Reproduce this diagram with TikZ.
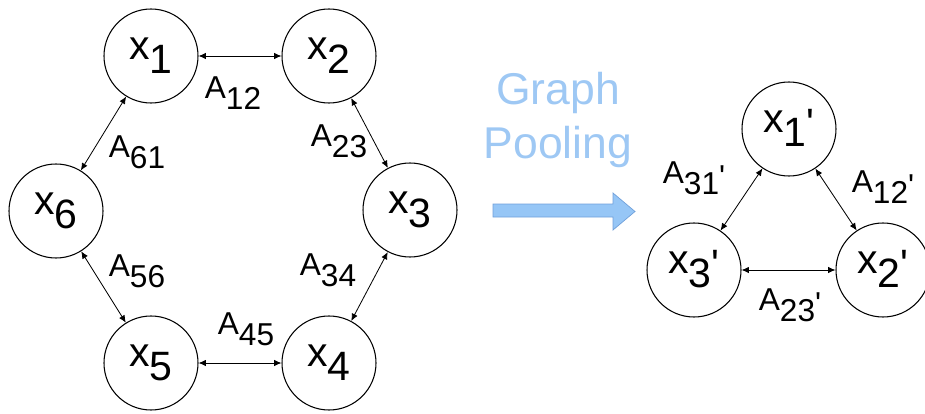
\documentclass[tikz,border=0pt]{standalone}
\usepackage{fontspec}
\setmainfont{Liberation Sans}
\usetikzlibrary{arrows.meta}
\definecolor{pooltext}{RGB}{158,200,244}
\definecolor{poolfill}{RGB}{150,198,246}
\definecolor{pooledge}{RGB}{112,160,218}
\newcommand{\subidx}[1]{\raisebox{-0.34em}{#1}}
\newcommand{\prm}{\raisebox{-0.12em}{\textquotesingle}}
\tikzset{
  vertex/.style={draw, circle, line width=0.9pt, minimum size=28.2mm, inner sep=0pt, text height=0.75em, text depth=0.22em, font=\fontsize{35}{37}\selectfont},
  link/.style={{Latex[length=2.2mm,width=1.9mm]}-{Latex[length=2.2mm,width=1.9mm]}, line width=0.7pt},
  weight/.style={font=\fontsize{27}{29}\selectfont, inner sep=0pt},
  poolcap/.style={font=\fontsize{38}{46}\selectfont, text=pooltext, align=center, inner sep=0pt}
}

\begin{document}
\begin{tikzpicture}[x=0.3mm, y=-0.3mm]
  \useasboundingbox (0,0) rectangle (925,414);
  % ring of six nodes
  \node[vertex] (x1) at (151,56) {x\subidx{1}};
  \node[vertex] (x2) at (329,56) {x\subidx{2}};
  \node[vertex] (x3) at (410,210) {x\subidx{3}};
  \node[vertex] (x4) at (329,363) {x\subidx{4}};
  \node[vertex] (x5) at (151,363) {x\subidx{5}};
  \node[vertex] (x6) at (56,211) {x\subidx{6}};
  \draw[link] (x1) -- (x2);
  \draw[link] (x2) -- (x3);
  \draw[link] (x3) -- (x4);
  \draw[link] (x4) -- (x5);
  \draw[link] (x5) -- (x6);
  \draw[link] (x6) -- (x1);
  \node[weight] (a12) at (233,93) {A\subidx{12}};
  \node[weight] (a23) at (339,141) {A\subidx{23}};
  \node[weight] (a34) at (328,270) {A\subidx{34}};
  \node[weight] (a45) at (246,329) {A\subidx{45}};
  \node[weight] (a56) at (137,271) {A\subidx{56}};
  \node[weight] (a61) at (137,152) {A\subidx{61}};
  % pooling step
  \node[poolcap] (pool) at (558,120) {Graph\\Pooling};
  \fill[poolfill, draw=pooledge, line width=0.6pt] (493,204) -- (613,204) -- (613,193) -- (635,211.5)
    -- (613,230) -- (613,217) -- (493,217) -- cycle;
  % pooled graph
  \node[vertex] (p1) at (789,129) {x\subidx{1}\prm};
  \node[vertex] (p2) at (883,270) {x\subidx{2}\prm};
  \node[vertex] (p3) at (694,270) {x\subidx{3}\prm};
  \draw[link] (p1) -- (p2);
  \draw[link] (p2) -- (p3);
  \draw[link] (p3) -- (p1);
  \node[weight] (b31) at (694,178) {A\subidx{31}\prm};
  \node[weight] (b12) at (883,187) {A\subidx{12}\prm};
  \node[weight] (b23) at (790,305) {A\subidx{23}\prm};
\end{tikzpicture}
\end{document}
